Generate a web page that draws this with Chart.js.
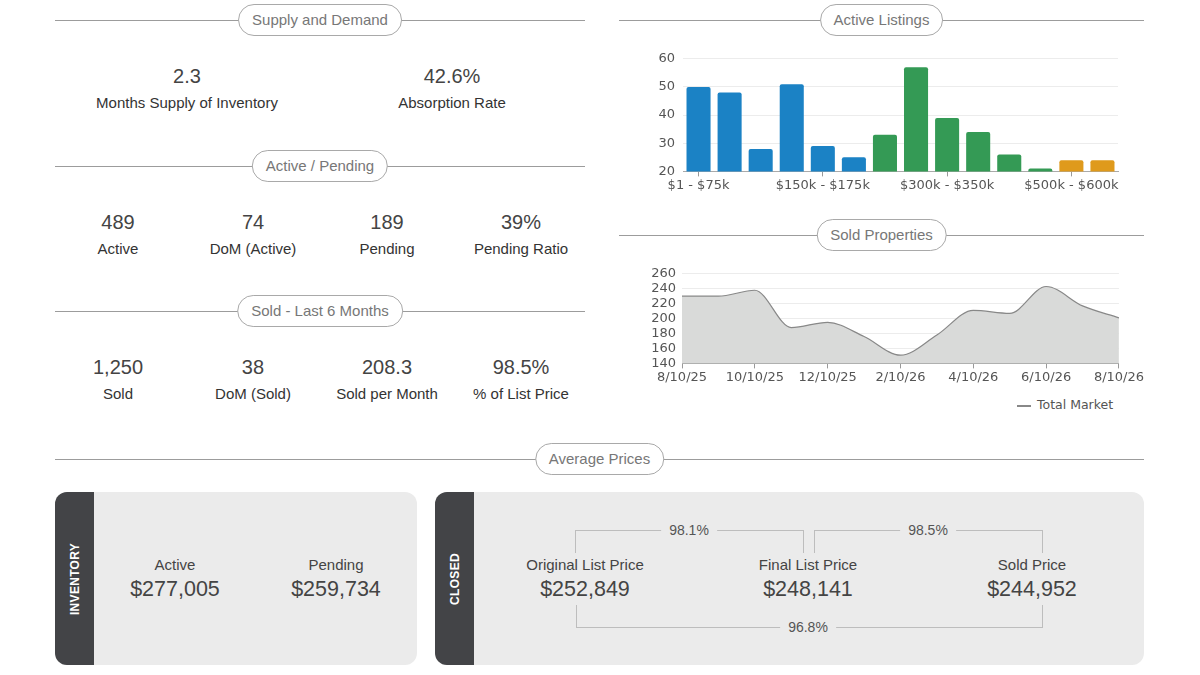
<!DOCTYPE html>
<html>
<head>
<meta charset="utf-8">
<script src="https://cdn.jsdelivr.net/npm/chart.js@4.4.1/dist/chart.umd.min.js"></script>
<style>
  body { margin: 0; width: 1200px; height: 675px; background: #fff; position: relative; overflow: hidden;
         font-family: "Liberation Sans", Arial, sans-serif; }
  .hdr { position: absolute; height: 1px; background: #9c9c9c; }
  .pill { position: absolute; top: -16px; left: 50%; transform: translateX(-50%); height: 30px; line-height: 30px;
          padding: 0 13px; border: 1px solid #a9a9a9; border-radius: 16px; background: #fff; color: #777;
          font-size: 15px; white-space: nowrap; }
  .stat { position: absolute; text-align: center; transform: translateX(-50%); white-space: nowrap; }
  .stat .v { font-size: 20px; line-height: 24px; color: #444; }
  .stat .l { font-size: 15px; line-height: 18px; color: #333; margin-top: 6px; }
  .box { position: absolute; background: #ebebeb; border-radius: 12px; overflow: hidden; }
  .band { position: absolute; left: 0; top: 0; bottom: 0; width: 39px; background: #434447; }
  .band span { position: absolute; left: 50%; top: 50%; transform: translate(-50%, -50%) rotate(-90deg);
               color: #fff; font-weight: bold; font-size: 12px; letter-spacing: 0.3px; white-space: nowrap; }
  .price { position: absolute; text-align: center; transform: translateX(-50%); white-space: nowrap; top: 556px; }
  .price .l { font-size: 15px; line-height: 18px; color: #444; }
  .price .v { font-size: 21.5px; line-height: 26px; color: #444; margin-top: 2px; }
  .br { position: absolute; background: #bdbdbd; }
  .pct { position: absolute; transform: translate(-50%, -50%); background: #ebebeb; padding: 0 8px;
         font-size: 14px; color: #555; white-space: nowrap; }
  .chart { position: absolute; }
  .legend { position: absolute; left: 1017px; top: 397px; font-family: "DejaVu Sans", sans-serif; font-size: 12.5px;
            color: #555; white-space: nowrap; }
  .legend i { display: inline-block; width: 14px; height: 2px; background: #888; vertical-align: middle; margin-right: 6px; }
</style>
</head>
<body>

<div class="hdr" style="left:55px; width:530px; top:20px"><div class="pill">Supply and Demand</div></div>
<div class="stat" style="left:187px; top:64px"><div class="v">2.3</div><div class="l">Months Supply of Inventory</div></div>
<div class="stat" style="left:452px; top:64px"><div class="v">42.6%</div><div class="l">Absorption Rate</div></div>

<div class="hdr" style="left:55px; width:530px; top:166px"><div class="pill">Active / Pending</div></div>
<div class="stat" style="left:118px; top:210px"><div class="v">489</div><div class="l">Active</div></div>
<div class="stat" style="left:253px; top:210px"><div class="v">74</div><div class="l">DoM (Active)</div></div>
<div class="stat" style="left:387px; top:210px"><div class="v">189</div><div class="l">Pending</div></div>
<div class="stat" style="left:521px; top:210px"><div class="v">39%</div><div class="l">Pending Ratio</div></div>

<div class="hdr" style="left:55px; width:530px; top:311px"><div class="pill">Sold - Last 6 Months</div></div>
<div class="stat" style="left:118px; top:355px"><div class="v">1,250</div><div class="l">Sold</div></div>
<div class="stat" style="left:253px; top:355px"><div class="v">38</div><div class="l">DoM (Sold)</div></div>
<div class="stat" style="left:387px; top:355px"><div class="v">208.3</div><div class="l">Sold per Month</div></div>
<div class="stat" style="left:521px; top:355px"><div class="v">98.5%</div><div class="l">% of List Price</div></div>

<div class="hdr" style="left:619px; width:525px; top:20px"><div class="pill">Active Listings</div></div>
<div class="chart" style="left:643px; top:43px; width:477px; height:151px"><canvas id="listingsChart"></canvas></div>

<div class="hdr" style="left:619px; width:525px; top:235px"><div class="pill">Sold Properties</div></div>
<div class="chart" style="left:642px; top:260px; width:503px; height:126px"><canvas id="soldChart"></canvas></div>
<div class="legend"><i></i>Total Market</div>

<div class="hdr" style="left:55px; width:1089px; top:459px"><div class="pill">Average Prices</div></div>

<div class="box" style="left:55px; top:492px; width:362px; height:173px"><div class="band"><span>INVENTORY</span></div></div>
<div class="price" style="left:175px"><div class="l">Active</div><div class="v">$277,005</div></div>
<div class="price" style="left:336px"><div class="l">Pending</div><div class="v">$259,734</div></div>

<div class="box" style="left:435px; top:492px; width:709px; height:173px"><div class="band"><span>CLOSED</span></div></div>
<div class="br" style="left:575px; top:530px; width:229px; height:1px"></div>
<div class="br" style="left:575px; top:530px; width:1px; height:23px"></div>
<div class="br" style="left:803px; top:530px; width:1px; height:23px"></div>
<div class="pct" style="left:689px; top:530px">98.1%</div>
<div class="br" style="left:814px; top:530px; width:229px; height:1px"></div>
<div class="br" style="left:814px; top:530px; width:1px; height:23px"></div>
<div class="br" style="left:1042px; top:530px; width:1px; height:23px"></div>
<div class="pct" style="left:928px; top:530px">98.5%</div>
<div class="br" style="left:576px; top:627px; width:467px; height:1px"></div>
<div class="br" style="left:576px; top:605px; width:1px; height:23px"></div>
<div class="br" style="left:1042px; top:605px; width:1px; height:23px"></div>
<div class="pct" style="left:808px; top:627px">96.8%</div>
<div class="price" style="left:585px"><div class="l">Original List Price</div><div class="v">$252,849</div></div>
<div class="price" style="left:808px"><div class="l">Final List Price</div><div class="v">$248,141</div></div>
<div class="price" style="left:1032px"><div class="l">Sold Price</div><div class="v">$244,952</div></div>

<script>
// Active listings per price range
const listingRanges = ['$1 - $75k', '$75k - $100k', '$100k - $125k', '$125k - $150k', '$150k - $175k',
    '$175k - $200k', '$200k - $250k', '$250k - $300k', '$300k - $350k', '$350k - $400k',
    '$400k - $450k', '$450k - $500k', '$500k - $600k', '$600k - $700k'];
const listingCounts = [50, 48, 28, 51, 29, 25, 33, 57, 39, 34, 26, 21, 24, 24];
const listingTicks = [20, 30, 40, 50, 60];

// Sold properties, total market
const soldMonths = ['8/10/25', '9/10/25', '10/10/25', '11/10/25', '12/10/25', '1/10/26', '2/10/26',
    '3/10/26', '4/10/26', '5/10/26', '6/10/26', '7/10/26', '8/10/26'];
const soldTotals = [230, 230, 238, 188, 195, 176, 151, 178, 211, 207, 243, 217, 201];
const soldTicks = [140, 160, 180, 200, 220, 240, 260];

const tickFont = { family: 'DejaVu Sans', size: 13 };

// fixed y axis width so both plots start at the same place
function fixWidth(scale) { scale.width = 40; }

new Chart(document.getElementById('listingsChart'), {
    type: 'bar',
    data: {
        labels: listingRanges,
        datasets: [{
            data: listingCounts,
            backgroundColor: function (c) {
                if (c.dataIndex < 6) return '#1b82c5';
                if (c.dataIndex < 12) return '#349a55';
                return '#df9a1c';
            },
            borderRadius: 2,
            barPercentage: 0.9,
            categoryPercentage: 0.86
        }]
    },
    options: {
        responsive: true,
        maintainAspectRatio: false,
        animation: false,
        layout: { padding: { right: 2 } },
        plugins: { legend: { display: false }, tooltip: { enabled: false } },
        scales: {
            x: {
                grid: { offset: false, drawOnChartArea: false, color: '#999', tickLength: 5 },
                border: { color: '#aaa' },
                ticks: {
                    autoSkip: false, maxRotation: 0, color: '#555', font: tickFont, padding: 1,
                    callback: function (v, i) { return i % 4 === 0 ? listingRanges[i] : null; }
                }
            },
            y: {
                min: listingTicks[0],
                max: listingTicks[listingTicks.length - 1],
                afterFit: fixWidth,
                grid: { color: '#ececec', drawTicks: false },
                border: { display: false },
                afterBuildTicks: function (s) { s.ticks = listingTicks.map(v => ({ value: v })); },
                ticks: { autoSkip: false, color: '#555', font: tickFont, padding: 8 }
            }
        }
    }
});

new Chart(document.getElementById('soldChart'), {
    type: 'line',
    data: {
        labels: soldMonths,
        datasets: [{
            label: 'Total Market',
            data: soldTotals,
            borderColor: '#888',
            borderWidth: 1.2,
            backgroundColor: '#d9dad9',
            fill: 'start',
            pointRadius: 0,
            cubicInterpolationMode: 'monotone'
        }]
    },
    options: {
        responsive: true,
        maintainAspectRatio: false,
        animation: false,
        plugins: { legend: { display: false }, tooltip: { enabled: false } },
        scales: {
            x: {
                grid: { drawOnChartArea: false, color: '#999', tickLength: 5 },
                border: { color: '#aaa' },
                ticks: {
                    autoSkip: false, maxRotation: 0, color: '#555', font: tickFont, padding: 1,
                    callback: function (v, i) { return i % 2 === 0 ? soldMonths[i] : null; }
                }
            },
            y: {
                min: soldTicks[0],
                max: soldTicks[soldTicks.length - 1],
                afterFit: fixWidth,
                grid: { color: '#ececec', drawTicks: false },
                border: { display: false },
                afterBuildTicks: function (s) { s.ticks = soldTicks.map(v => ({ value: v })); },
                ticks: { autoSkip: false, color: '#555', font: tickFont, padding: 6 }
            }
        }
    }
});
</script>
</body>
</html>
